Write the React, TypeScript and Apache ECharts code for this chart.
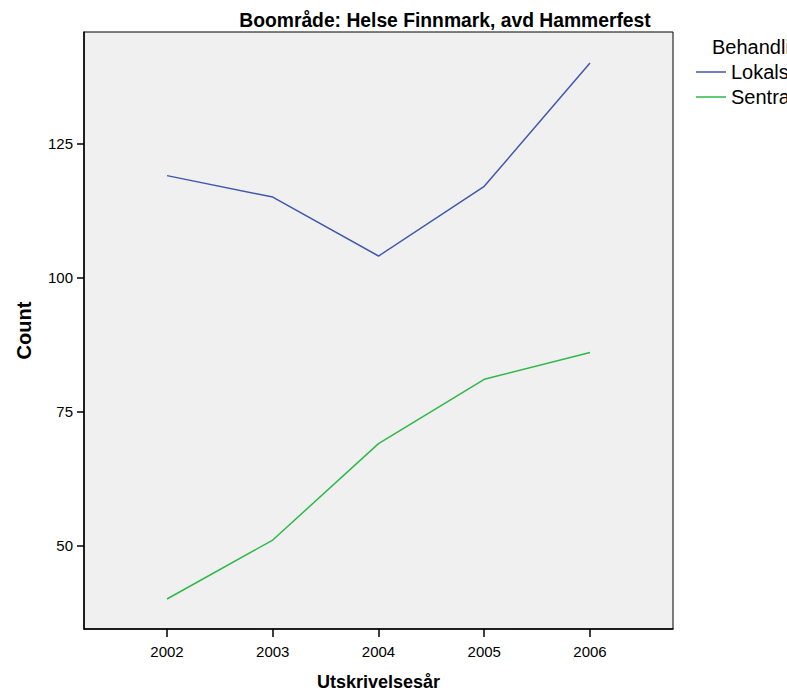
import React, { useEffect, useRef } from "react";
import * as echarts from "echarts";

const years = [2002, 2003, 2004, 2005, 2006];
const lokalValues = [119, 115, 104, 117, 140];
const sentralValues = [40, 51, 69, 81, 86];
const yTicks = [50, 75, 100, 125];
const seriesNames = ["Lokalsykehus", "Sentralsykehus"];
const legendTitle = "Behandlingsnivå";
const chartTitle = "Boområde: Helse Finnmark, avd Hammerfest";

const FONT = "'Liberation Sans', Arial, sans-serif";

export default function App() {
  const ref = useRef<HTMLDivElement>(null);
  useEffect(() => {
    if (!ref.current) return;
    const chart = echarts.init(ref.current, null, { renderer: "svg" });
    chart.setOption({
      animation: false,
      backgroundColor: "#ffffff",
      textStyle: { fontFamily: FONT },
      grid: {
        left: 84,
        top: 32,
        width: 589,
        height: 599,
        show: true,
        backgroundColor: "#f0f0f0",
        borderColor: "#000",
        borderWidth: 1,
        containLabel: false,
      },
      graphic: [
        {
          type: "text",
          x: 445,
          y: 20,
          style: {
            text: chartTitle,
            font: `bold 19.3px ${FONT}`,
            fill: "#000",
            textAlign: "center",
            textVerticalAlign: "middle",
          },
        },
        {
          type: "text",
          x: 712,
          y: 47,
          style: {
            text: legendTitle,
            font: `20px ${FONT}`,
            fill: "#000",
            textAlign: "left",
            textVerticalAlign: "middle",
          },
        },
      ],
      legend: {
        orient: "vertical",
        left: 691,
        top: 57,
        icon: "rect",
        itemWidth: 30,
        itemHeight: 1.5,
        itemGap: 5,
        data: seriesNames,
        textStyle: { fontSize: 20, lineHeight: 20, color: "#000", fontFamily: FONT },
      },
      xAxis: {
        type: "value",
        min: 2001.215,
        max: 2006.785,
        name: "Utskrivelsesår",
        nameLocation: "middle",
        nameGap: 44,
        nameTextStyle: { fontSize: 18, fontWeight: "bold", color: "#000", fontFamily: FONT },
        axisLine: { show: true, lineStyle: { color: "#000", width: 1.5 } },
        axisTick: { show: true, length: 8, lineStyle: { color: "#000", width: 1.5 }, customValues: years },
        axisLabel: {
          customValues: years,
          fontSize: 15,
          color: "#000",
          margin: 15,
          formatter: (v: number) => String(v),
        },
        splitLine: { show: false },
      },
      yAxis: {
        type: "value",
        min: 34.4,
        max: 145.8,
        name: "Count",
        nameLocation: "middle",
        nameRotate: 90,
        nameGap: 50,
        nameTextStyle: { fontSize: 20, fontWeight: "bold", color: "#000", fontFamily: FONT },
        axisLine: { show: true, lineStyle: { color: "#000", width: 1.5 } },
        axisTick: { show: true, length: 7, lineStyle: { color: "#000", width: 1.5 }, customValues: yTicks },
        axisLabel: {
          customValues: yTicks,
          fontSize: 15,
          color: "#000",
          margin: 11,
        },
        splitLine: { show: false },
      },
      series: [
        {
          name: seriesNames[0],
          type: "line",
          data: years.map((y, i) => [y, lokalValues[i]]),
          symbol: "none",
          lineStyle: { color: "#3e58ac", width: 1.5 },
          itemStyle: { color: "#3e58ac" },
        },
        {
          name: seriesNames[1],
          type: "line",
          data: years.map((y, i) => [y, sentralValues[i]]),
          symbol: "none",
          lineStyle: { color: "#2eb848", width: 1.5 },
          itemStyle: { color: "#2eb848" },
        },
      ],
    });
    return () => chart.dispose();
  }, []);
  return <div ref={ref} style={{ width: 787, height: 696, position: "absolute", left: 0, top: 0 }} />;
}
